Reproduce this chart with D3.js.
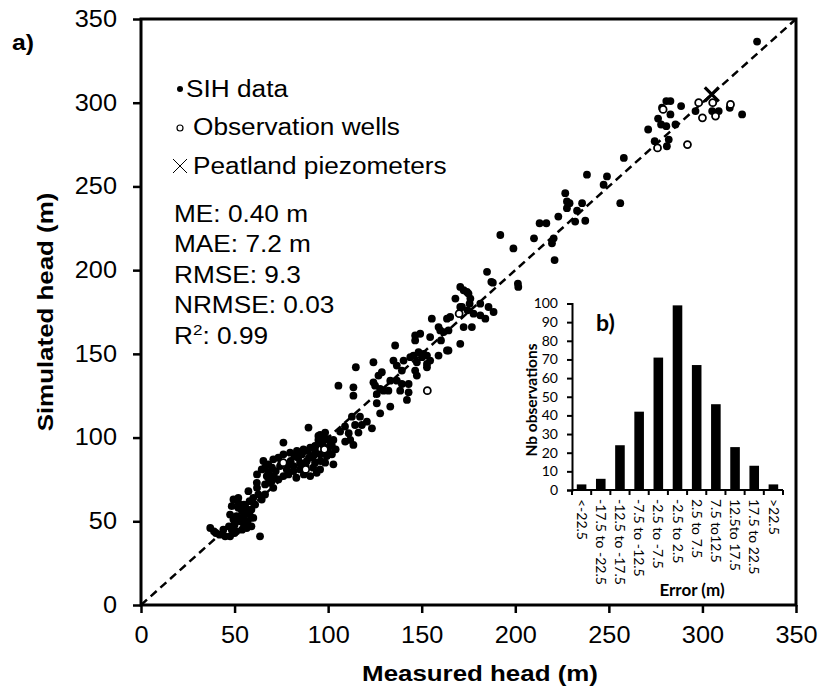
<!DOCTYPE html>
<html>
<head>
<meta charset="utf-8">
<script src="https://cdn.jsdelivr.net/npm/d3@7"></script>
<style>
  body { margin: 0; background: #fff; }
  svg { display: block; }
</style>
</head>
<body>
<svg id="chart"></svg>
<script>
// Data: [measured, simulated] heads (m)
const sihPoints = [
  [37,46],[39,44],[42,42],[45,41],[47.6,41],[50,43],[48.5,45],[51,44],[54,45],[56.5,46],[59,47],[47,47],
  [47.6,54],[49.4,51],[51,53],[54,56],[54.7,52],[56.5,55],[59,57],[61,60],[48.5,59],[49.4,63],[52,64],
  [57.4,68],[61.9,73],[63.6,41],[64.5,63],[66.3,66],[62.7,66],[52,58],[55,60],[58,62],[53,50],[57,50],
  [60,52],[50,48],[55,48],[58,54],[60,64],[56,58],[52,61],[62,70],[44,45],[40,43],
  [65.4,86],[66.3,82],[68,79],[64.5,81],[67.2,77],[69,73],[70.7,70],[66.3,72],[69.9,74],[73.4,75],
  [76.1,77],[78.8,78],[81.5,80],[85,81],[90.4,77],[93.9,79],[95.7,81],[93,85],[98.4,85],[74.3,83],
  [77.9,81],[81.5,83],[85,85],[88.6,86],[92.1,89],[95.7,90],[99.3,89],[102,90],[70.7,87],[73.4,88],
  [76.1,90],[79.7,91],[83.3,92],[86.8,93],[90.4,94],[76.1,97],[94.8,101],[98.4,103],[98.4,99],[102,95],
  [102.8,84],[72,80],[80,86],[84,88],[88,83],[92,82],[96,86],[100,92],[82,89],[86,90],[90,88],[75,85],
  [68,84],[71,77],[79,84],[87,78],[93,92],[97,96],[100,99],[104,93],[83,76],[89,92],[93,95],[95.7,98],
  [98,94],[62,78],[68,76],[70,82],
  [89.5,106],[95.7,101.6],[102.8,98.6],[101.1,95.6],[94.8,98.6],[93,94.6],[105.5,131],[113.5,130],
  [113.5,125],[126,120.5],[127.8,114.5],[133.2,118.5],[117,112.5],[112.7,112.5],[118,107.5],[114.4,107.5],
  [120.7,109.5],[123.4,105.5],[109,106.6],[106.4,103.6],[111,102.6],[116.2,103],[111.8,98.6],[109.1,97.6],
  [113.5,95.6],[124.2,145],[114.8,142],[128.7,139],[126.9,137],[124.2,133],[125.1,131],[127.8,129],
  [129.6,128],[132.2,128],[126,126],[133.2,134],[136.7,134],[139.4,132],[138.5,128],[143,132],[143,127],
  [142.1,122.5],
  [134.9,146],[136.7,143],[139.4,140],[140.3,146],[146.5,140],[147.4,137],[152.8,142],[148.3,151],
  [151,150],[152.8,149],[150.1,148],[145.6,149],[143.9,148],[147.4,145],[152.8,144],[154.5,146],
  [135.8,155],[146.5,161],[146.5,158],[160.3,158],[163.5,152],[159,149],[155.4,171],[163.5,171],
  [159,166],[161.7,163],[164.3,164],[149.2,162],[154.5,160],[159.9,164],[164.3,152],[170.6,156],
  [165.2,172],[168,183],[170.6,190],[172.4,188],[175,186],[176,183],[175.6,180],[181.3,180],[185.7,178],
  [188.4,175],[184,171],[181.3,173],[171.5,178],[174.5,176],[177.7,174],[176.8,166],[172.4,166],
  [174.2,187],[170.6,178],[184.9,199],[187.2,193],[188,192.5],[201.4,192],[192,221],[199,213],[201.6,190],
  [210,219],[213,228],[216.6,228],[220.5,219],[219.6,216],[221,206],[223,232],[226.7,246],[227.6,241],
  [229,240],[227.6,237],[233,235.5],[232,229],[237.4,229.5],[235.7,240],[238.3,257],[249,256],
  [247.2,251],[256.1,240],[258,267],
  [271,284],[274.5,277],[281,274],[282,278],[280.7,286],[285.6,287],[277.9,287],[276.3,290.5],
  [282.9,293],[278.4,297],[280.7,301],[282.9,301],[288.6,298],[296.3,295],[305.2,295],[308.7,295],
  [314.6,297],[321.2,293],[329.2,336.5]
];
const wellPoints = [
  [76,85],[88,81],[98,93],[153,128],[170,174],[276,273],[279,296],[292,275],
  [298,300],[300,291],[305.5,300],[307,292],[315,299]
];
const peatPoints = [[305,305]];
const headTicks = [0, 50, 100, 150, 200, 250, 300, 350];
const stats = ["ME: 0.40 m", "MAE:  7.2 m", "RMSE: 9.3", "NRMSE: 0.03"];

// inset histogram of errors
const errorBins = ["<-22.5", "-17.5 to -22.5", "-12.5 to -17.5", "-7.5 to -12.5", "-2.5 to -7.5",
  "-2.5 to 2.5", "2.5 to 7.5", "7.5 to12.5", "12.5to 17.5", "17.5 to 22.5", ">22.5"];
const errorCounts = [3, 6, 24, 42, 71, 99, 67, 46, 23, 13, 3];
const countTicks = [0, 10, 20, 30, 40, 50, 60, 70, 80, 90, 100];

const W = 821, H = 694;
const pLeft = 141, pRight = 796, pTop = 19, pBottom = 605;
const mainFont = "'Liberation Sans', Arial, sans-serif";
const insetFont = "Lato, 'Open Sans', sans-serif";

const svg = d3.select("#chart").attr("width", W).attr("height", H);

// the original text is a bit wider than Arial, stretch it along its baseline
function stretch(sel, k) {
  sel.each(function () {
    const w = this.getComputedTextLength();
    d3.select(this).attr("textLength", w * k).attr("lengthAdjust", "spacingAndGlyphs");
  });
}

const x = d3.scaleLinear().domain([0, 350]).range([pLeft, pRight]);
const y = d3.scaleLinear().domain([0, 350]).range([pBottom, pTop]);

// axes
const yAxis = svg.append("g")
  .attr("transform", `translate(${pLeft},0)`)
  .call(d3.axisLeft(y).tickValues(headTicks).tickSize(8).tickPadding(16));
const xAxis = svg.append("g")
  .attr("transform", `translate(0,${pBottom})`)
  .call(d3.axisBottom(x).tickValues(headTicks).tickSize(8).tickPadding(14));
[xAxis, yAxis].forEach(g => {
  g.select(".domain").remove();
  g.selectAll(".tick line").attr("stroke", "#000").attr("stroke-width", 2.5);
  g.selectAll(".tick text").attr("fill", "#000")
    .style("font-family", mainFont).style("font-size", "23px");
  stretch(g.selectAll(".tick text"), 1.1);
});

// frame
svg.append("rect")
  .attr("x", pLeft).attr("y", pTop)
  .attr("width", pRight - pLeft).attr("height", pBottom - pTop)
  .attr("fill", "none").attr("stroke", "#000").attr("stroke-width", 3);

// 1:1 line
svg.append("line")
  .attr("x1", x(0)).attr("y1", y(0))
  .attr("x2", x(350)).attr("y2", y(350))
  .attr("stroke", "#000").attr("stroke-width", 2.5)
  .attr("stroke-dasharray", "8,5");

// points
svg.append("g").selectAll("circle")
  .data(sihPoints).enter().append("circle")
  .attr("cx", d => x(d[0])).attr("cy", d => y(d[1]))
  .attr("r", 3.9).attr("fill", "#000");

svg.append("g").selectAll("circle")
  .data(wellPoints).enter().append("circle")
  .attr("cx", d => x(d[0])).attr("cy", d => y(d[1]))
  .attr("r", 3.5).attr("fill", "#fff")
  .attr("stroke", "#000").attr("stroke-width", 1.8);

const peat = svg.append("g").selectAll("g")
  .data(peatPoints).enter().append("g")
  .attr("transform", d => `translate(${x(d[0])},${y(d[1])})`);
peat.append("path")
  .attr("d", "M-7,-7L7,7M-7,7L7,-7")
  .attr("stroke", "#000").attr("stroke-width", 3.2);

// legend
const leg = svg.append("g").style("font-family", mainFont).style("font-size", "23px")
  .style("white-space", "pre");
leg.append("circle").attr("cx", 180).attr("cy", 89).attr("r", 3).attr("fill", "#000");
leg.append("text").attr("x", 186).attr("y", 97).text("SIH data");
leg.append("circle").attr("cx", 180).attr("cy", 128).attr("r", 3)
  .attr("fill", "#fff").attr("stroke", "#000").attr("stroke-width", 1.2);
leg.append("text").attr("x", 193).attr("y", 135).text("Observation wells");
leg.append("path").attr("d", "M173,159L187,173M173,173L187,159")
  .attr("stroke", "#000").attr("stroke-width", 1);
leg.append("text").attr("x", 193).attr("y", 174).text("Peatland piezometers");

stats.forEach((s, i) => {
  leg.append("text").attr("x", 174).attr("y", 222 + i * 30.4).text(s);
});
const r2 = leg.append("text").attr("x", 174).attr("y", 343.5);
r2.append("tspan").text("R");
r2.append("tspan").attr("dy", -9).style("font-size", "15px").text("2");
r2.append("tspan").attr("dy", 9).text(": 0.99");
stretch(leg.selectAll("text"), 1.14);

// axis titles
const xTitle = svg.append("text")
  .attr("x", 480).attr("y", 681).attr("text-anchor", "middle")
  .style("font-family", mainFont).style("font-size", "22.5px").style("font-weight", "bold")
  .text("Measured head (m)");
const yTitle = svg.append("text")
  .attr("transform", `translate(53,${(pTop + pBottom) / 2}) rotate(-90)`)
  .attr("text-anchor", "middle")
  .style("font-family", mainFont).style("font-size", "22.5px").style("font-weight", "bold")
  .text("Simulated head (m)");
const aLabel = svg.append("text")
  .attr("x", 12).attr("y", 50)
  .style("font-family", mainFont).style("font-size", "22.5px").style("font-weight", "bold")
  .text("a)");
stretch(xTitle, 1.15);
stretch(yTitle, 1.15);
stretch(aLabel, 1.1);

// ---- inset b) ----
const ix = d3.scaleBand().domain(errorBins).range([572, 783]).paddingInner(0.5).paddingOuter(0.25);
const iy = d3.scaleLinear().domain([0, 100]).range([490, 303.5]);
const inset = svg.append("g").style("font-family", insetFont);

inset.selectAll("rect")
  .data(errorCounts).enter().append("rect")
  .attr("x", (d, i) => ix(errorBins[i]))
  .attr("y", d => iy(d))
  .attr("width", ix.bandwidth())
  .attr("height", d => iy(0) - iy(d))
  .attr("fill", "#000");

const iyAxis = inset.append("g")
  .attr("transform", "translate(572,0)")
  .call(d3.axisLeft(iy).tickValues(countTicks).tickSize(5).tickPadding(9));
iyAxis.select(".domain").attr("stroke", "#000").attr("stroke-width", 2);
iyAxis.selectAll(".tick line").attr("stroke", "#000").attr("stroke-width", 2);
iyAxis.selectAll(".tick text").attr("fill", "#000").style("font-family", insetFont).style("font-size", "14px");

// x axis line with ticks at bin edges
inset.append("line")
  .attr("x1", 572).attr("x2", 783).attr("y1", iy(0)).attr("y2", iy(0))
  .attr("stroke", "#000").attr("stroke-width", 2);
inset.selectAll(".edge")
  .data(d3.range(errorBins.length + 1)).enter().append("line")
  .attr("x1", i => 572 + i * (211 / errorBins.length))
  .attr("x2", i => 572 + i * (211 / errorBins.length))
  .attr("y1", iy(0)).attr("y2", iy(0) + 5)
  .attr("stroke", "#000").attr("stroke-width", 2);

inset.selectAll(".binlabel")
  .data(errorBins).enter().append("text")
  .attr("transform", d => `translate(${ix(d) + ix.bandwidth() / 2},499) rotate(90)`)
  .attr("dy", "0.35em")
  .style("font-size", "14px")
  .text(d => d);

inset.append("text")
  .attr("x", 692).attr("y", 596).attr("text-anchor", "middle")
  .style("font-size", "17px").style("font-weight", "bold")
  .text("Error (m)");
inset.append("text")
  .attr("transform", "translate(537,400) rotate(-90)")
  .attr("text-anchor", "middle")
  .style("font-size", "15.5px").style("font-weight", "bold")
  .text("Nb observations");
inset.append("text")
  .attr("x", 596).attr("y", 331)
  .style("font-size", "23px").style("font-weight", "bold")
  .text("b)");
</script>
</body>
</html>
